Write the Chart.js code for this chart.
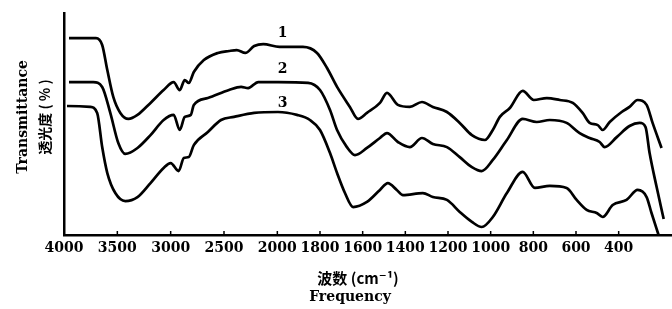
<!DOCTYPE html>
<html>
<head>
<meta charset="utf-8">
<script src="https://cdn.jsdelivr.net/npm/chart.js@4.4.1/dist/chart.umd.min.js"></script>
<style>
  html, body { margin: 0; padding: 0; background: #fff; }
  #wrap { width: 672px; height: 309px; }
</style>
</head>
<body>
<div id="wrap"><canvas id="irChart" width="672" height="309"></canvas></div>
<script>
// x axis ticks (wavenumber, cm-1)
const xTicks = [4000, 3500, 3000, 2500, 2000, 1800, 1600, 1400, 1200, 1000, 800, 600, 400];
const xTickLabels = ['4000', '3500', '3000', '2500', '2000', '1800', '1600', '1400', '1200', '1000', '800', '600', '400'];
const xMinWn = 4000;
const xMaxWn = 150;

// curve numbers, drawn next to each trace
const curveNames = ['1', '2', '3'];
const curveNameWn = 1975;
const curveNameT = [91, 74.5, 59.5];

// spectrum 1
const wn1 = [3953, 3700, 3642, 3594, 3538, 3472, 3396, 3311, 3189, 3066, 2972, 2915, 2868, 2830, 2783, 2689,
  2557, 2453, 2380, 2300, 2217, 2132, 1990, 1880, 1814, 1767, 1720, 1660, 1622, 1580, 1519, 1486, 1435, 1379,
  1322, 1271, 1205, 1145, 1088, 1027, 990, 957, 910, 850, 798, 737, 676, 615, 569, 536, 498, 475, 442, 386,
  349, 311, 269, 241, 199];
const t1 = [88.7, 88.7, 85.6, 74.3, 62.2, 55.0, 52.3, 54.1, 59.5, 65.3, 68.9, 65.3, 69.8, 68.5, 73.4, 78.8,
  82.0, 82.9, 83.3, 82.0, 85.1, 86.0, 84.7, 84.7, 82.0, 75.2, 66.7, 57.7, 52.3, 55.0, 59.5, 64.0, 58.6, 57.7,
  59.9, 57.7, 55.4, 50.5, 45.0, 42.8, 47.3, 53.2, 57.2, 64.9, 60.8, 61.7, 60.8, 59.5, 55.0, 50.5, 49.5, 47.3, 50.9, 55.4,
  57.7, 60.8, 58.6, 50.5, 39.2];

// spectrum 2
const wn2 = [3953, 3726, 3642, 3566, 3491, 3425, 3311, 3189, 3066, 2972, 2915, 2868, 2811, 2783, 2651, 2453,
  2340, 2274, 2179, 1997, 1856, 1800, 1753, 1720, 1674, 1636, 1580, 1519, 1486, 1435, 1379, 1322, 1271, 1205,
  1145, 1088, 1042, 990, 924, 850, 784, 723, 644, 583, 536, 489, 466, 409, 349, 302, 274, 255, 222, 189];
const t2 = [68.9, 68.9, 66.7, 55.0, 41.4, 36.5, 39.2, 45.0, 51.8, 54.1, 47.3, 53.2, 54.1, 58.6, 61.7, 65.3,
  66.7, 66.2, 68.9, 68.9, 68.5, 65.3, 56.3, 47.3, 39.6, 36.0, 39.2, 43.7, 45.9, 41.9, 39.6, 43.7, 41.0, 39.6,
  35.1, 30.6, 28.8, 33.8, 42.8, 52.3, 50.9, 51.8, 50.5, 45.9, 43.7, 41.9, 39.6, 44.1, 49.1, 50.5, 48.6, 36.9, 21.6, 7.2];

// spectrum 3
const wn3 = [3972, 3755, 3689, 3642, 3594, 3519, 3425, 3311, 3189, 3066, 3000, 2925, 2877, 2830, 2783, 2651,
  2528, 2406, 2217, 1997, 1908, 1847, 1800, 1753, 1720, 1683, 1645, 1580, 1519, 1482, 1440, 1411, 1318, 1271,
  1205, 1145, 1088, 1042, 990, 924, 850, 793, 723, 644, 597, 550, 503, 475, 428, 363, 311, 269, 246, 213];
const t3 = [58.1, 57.7, 55.0, 39.6, 27.9, 18.9, 15.3, 17.1, 23.4, 30.2, 32.4, 28.8, 34.7, 35.1, 40.5, 46.4,
  51.8, 53.2, 55.0, 55.4, 54.1, 51.8, 47.3, 36.9, 27.9, 18.9, 12.6, 14.9, 20.3, 23.4, 20.3, 18.0, 18.9, 17.1,
  15.8, 10.4, 5.9, 3.6, 8.1, 18.9, 28.4, 21.2, 22.1, 21.2, 15.8, 11.3, 9.9, 8.1, 13.5, 15.8, 20.3, 17.1, 9.9, 0];

// the 4000-2000 part of the axis is printed at half the scale of the part below 2000
function toAxis(wn) {
  return wn >= 2000 ? (4000 - wn) / 2 : 1000 + (2000 - wn);
}

function toPoints(wn, t) {
  return wn.map((w, i) => ({ x: toAxis(w), y: t[i] }));
}

const serif = '"DejaVu Serif", "Liberation Serif", serif';
const cjk = '"Noto Sans CJK SC", "DejaVu Serif", serif';

// axis titles, inward tick marks and curve numbers
const extrasPlugin = {
  id: 'extras',
  afterDraw(chart) {
    const ctx = chart.ctx;
    const xs = chart.scales.x;
    const ys = chart.scales.y;
    ctx.save();
    ctx.strokeStyle = '#000';
    ctx.lineWidth = 1.5;
    xs.ticks.forEach((t, i) => {
      const px = xs.getPixelForTick(i);
      ctx.beginPath();
      ctx.moveTo(px, xs.top);
      ctx.lineTo(px, xs.top - 4);
      ctx.stroke();
    });

    ctx.fillStyle = '#000';
    ctx.textAlign = 'center';
    ctx.textBaseline = 'middle';
    ctx.font = 'bold 14px ' + serif;
    curveNames.forEach((name, i) => {
      ctx.fillText(name, xs.getPixelForValue(toAxis(curveNameWn)), ys.getPixelForValue(curveNameT[i]));
    });

    // x title
    ctx.font = 'bold 15px ' + cjk;
    ctx.fillText('波数 (cm⁻¹)', 358, 278);
    ctx.font = 'bold 14px ' + serif;
    ctx.fillText('Frequency', 350, 297);

    // y title
    ctx.translate(23, 117);
    ctx.rotate(-Math.PI / 2);
    ctx.font = 'bold 14px ' + serif;
    ctx.fillText('Transmittance', 0, 0);
    ctx.font = 'bold 14px ' + cjk;
    ctx.fillText('透光度 ( % )', 0, 22);
    ctx.restore();
  }
};

const lineStyle = {
  borderColor: '#000',
  borderWidth: 2.7,
  pointRadius: 0,
  fill: false,
  cubicInterpolationMode: 'monotone'
};

new Chart(document.getElementById('irChart'), {
  type: 'line',
  data: {
    datasets: [
      { label: curveNames[0], data: toPoints(wn1, t1), ...lineStyle },
      { label: curveNames[1], data: toPoints(wn2, t2), ...lineStyle },
      { label: curveNames[2], data: toPoints(wn3, t3), ...lineStyle }
    ]
  },
  options: {
    responsive: false,
    animation: false,
    devicePixelRatio: 1,
    layout: { padding: { top: 13, right: 0, left: 0, bottom: 0 } },
    plugins: { legend: { display: false }, tooltip: { enabled: false } },
    scales: {
      x: {
        type: 'linear',
        min: toAxis(xMinWn),
        max: toAxis(xMaxWn),
        afterFit(scale) { scale.height = 74; },
        afterBuildTicks(scale) {
          scale.ticks = xTicks.map(w => ({ value: toAxis(w) }));
        },
        grid: { display: false },
        border: { display: true, color: '#000', width: 2.5 },
        ticks: {
          autoSkip: false,
          maxRotation: 0,
          padding: -3,
          color: '#000',
          font: { family: serif, size: 14, weight: 'bold' },
          callback: (value, index) => xTickLabels[index]
        }
      },
      y: {
        min: 0,
        max: 100,
        afterFit(scale) { scale.width = 64; },
        grid: { display: false },
        border: { display: true, color: '#000', width: 2.5 },
        ticks: { display: false }
      }
    }
  },
  plugins: [extrasPlugin]
});
</script>
</body>
</html>
